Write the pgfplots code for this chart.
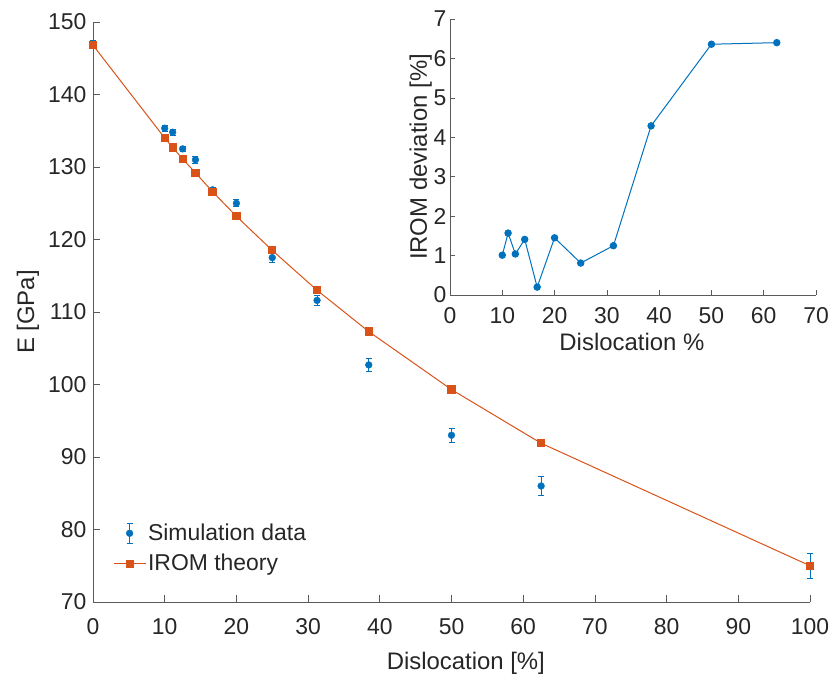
\documentclass[border=0pt]{standalone}
\usepackage{pgfplots}
\pgfplotsset{compat=1.18}
\usepackage{pgfplotstable}
\usepackage{fontspec}
\setmainfont{Liberation Sans}
\definecolor{matblue}{HTML}{0072BD}
\definecolor{matorange}{HTML}{D95319}
\definecolor{axgray}{HTML}{5A5A5A}
\definecolor{txt}{HTML}{262626}

\pgfplotstableread{
x y e
0 146.9 0.6
10 135.35 0.4
11.11 134.8 0.4
12.5 132.5 0.4
14.29 131.0 0.5
16.67 126.85 0.3
20 125.0 0.5
25 117.5 0.6
31.25 111.6 0.7
38.46 102.7 0.9
50 93.0 1.0
62.5 86.0 1.3
100 75.0 1.7
}\simdata

\pgfplotstableread{
x y
0 146.8
10 134.0
11.11 132.7
12.5 131.1
14.29 129.2
16.67 126.6
20 123.2
25 118.5
31.25 113.0
38.46 107.3
50 99.3
62.5 91.9
100 75.0
}\iromdata

\pgfplotstableread{
x y
10 1.01
11.11 1.57
12.5 1.04
14.29 1.41
16.67 0.20
20 1.45
25 0.81
31.25 1.25
38.46 4.29
50 6.36
62.5 6.40
}\devdata

\newcommand{\tfont}{\fontsize{23}{27}\selectfont}
\newcommand{\lfont}{\fontsize{24}{28}\selectfont}

\begin{document}
\begin{tikzpicture}
\path[use as bounding box] (0,0) rectangle (833bp,677bp);

\begin{axis}[
  at={(93bp,75bp)}, anchor=south west,
  scale only axis, width=717bp, height=580bp,
  xmin=0, xmax=100, ymin=70, ymax=150,
  xtick={0,10,...,100}, ytick={70,80,...,150},
  axis x line*=bottom, axis y line*=left,
  axis line style={axgray, line width=0.7bp},
  tick style={axgray, line width=0.7bp},
  tick align=inside, major tick length=7bp,
  /pgf/number format/assume math mode=true,
  tick label style={font=\tfont, text=txt},
  xticklabel style={yshift=-13bp},
  yticklabel style={xshift=-3bp},
  label style={font=\lfont, text=txt},
  xlabel={Dislocation [\%]},
  ylabel={E [GPa]},
  xlabel style={at={(axis description cs:0.52,-0.105)}, anchor=center},
  ylabel style={at={(axis description cs:-0.0907,0.5)}, anchor=center},
  clip=false,
  legend style={at={(axis description cs:0.025,0.1413)}, anchor=north west,
    draw=none, fill=none, font=\tfont, text=txt,
    row sep=8bp, inner sep=2bp},
  legend cell align=left,
]
\addplot[only marks, mark=*, color=matblue, mark size=3.4bp, forget plot,
  error bars/.cd, y dir=both, y explicit,
  error bar style={matblue, line width=0.8bp},
  error mark options={rotate=90, matblue, mark size=3bp, line width=0.8bp},
  ] table[x=x, y=y, y error=e] {\simdata};
\addplot[color=matorange, line width=1bp, mark=square*, mark size=3.6bp,
  forget plot] table[x=x, y=y] {\iromdata};
\addlegendimage{legend image code/.code={
    \draw[matblue, line width=0.8bp] (16bp,-10bp) -- (16bp,10bp)
      (13bp,-10bp) -- (19bp,-10bp) (13bp,10bp) -- (19bp,10bp);
    \fill[matblue] (16bp,0bp) circle (3.4bp);}}
\addlegendentry{Simulation data}
\addlegendimage{legend image code/.code={
    \draw[matorange, line width=1bp] (0bp,0bp) -- (32bp,0bp);
    \fill[matorange] (12.4bp,-3.6bp) rectangle (19.6bp,3.6bp);}}
\addlegendentry{IROM theory}
\end{axis}

\begin{axis}[
  at={(450bp,382bp)}, anchor=south west,
  scale only axis, width=366bp, height=276bp,
  xmin=0, xmax=70, ymin=0, ymax=7,
  xtick={0,10,...,70}, ytick={0,1,...,7},
  axis x line*=bottom, axis y line*=left,
  axis line style={axgray, line width=0.7bp},
  tick style={axgray, line width=0.7bp},
  tick align=inside, major tick length=5bp,
  /pgf/number format/assume math mode=true,
  tick label style={font=\tfont, text=txt},
  xticklabel style={yshift=-9bp},
  label style={font=\lfont, text=txt},
  xlabel={Dislocation \%},
  ylabel={IROM deviation [\%]},
  xlabel style={at={(axis description cs:0.497,-0.17)}, anchor=center},
  ylabel style={at={(axis description cs:-0.08,0.5)}, anchor=center},
  clip=false,
]
\addplot[color=matblue, line width=1bp, mark=*, mark size=3.2bp] table[x=x, y=y] {\devdata};
\end{axis}
\end{tikzpicture}
\end{document}
